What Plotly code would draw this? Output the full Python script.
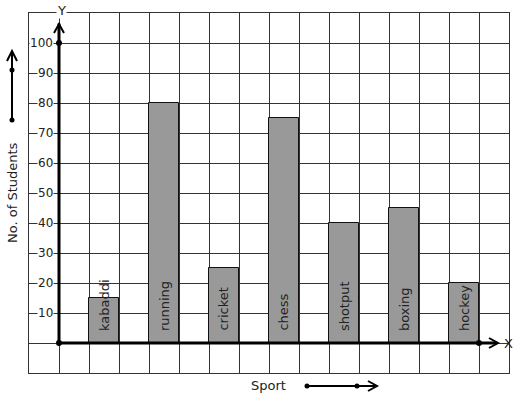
import plotly.graph_objects as go

sports = ["kabaddi", "running", "cricket", "chess", "shotput", "boxing", "hockey"]
students = [15, 80, 25, 75, 40, 45, 20]
bar_pos = [1.5, 3.5, 5.5, 7.5, 9.5, 11.5, 13.5]
y_ticks = [10, 20, 30, 40, 50, 60, 70, 80, 90, 100]

W, H = 517, 399
L, R, T, B = 29, 509, 13, 373


def px(x):
    return (x - L) / (R - L)


def py(y):
    return (B - y) / (B - T)


FONT = "DejaVu Sans"
INK = "#222"

fig = go.Figure()
fig.add_trace(go.Bar(
    x=bar_pos, y=students, width=1,
    marker=dict(color="#999999", line=dict(color="#111", width=1)),
    hoverinfo="skip",
))
fig.add_trace(go.Scatter(
    x=[0, 0, 14], y=[0, 100, 0], mode="markers",
    marker=dict(color="black", size=6), cliponaxis=False, hoverinfo="skip",
))

shapes = []
# thick axes
shapes.append(dict(type="line", xref="x", yref="y", x0=0, y0=0, x1=0, y1=106.5,
                   line=dict(color="black", width=3)))
shapes.append(dict(type="line", xref="x", yref="y", x0=0, y0=0, x1=14.6, y1=0,
                   line=dict(color="black", width=3)))
# chevrons on axes
shapes.append(dict(type="path", xref="paper", yref="paper",
                   path=f"M {px(54)} {py(33)} L {px(59)} {py(24)} L {px(64)} {py(33)}",
                   line=dict(color="black", width=2)))
shapes.append(dict(type="path", xref="paper", yref="paper",
                   path=f"M {px(489)} {py(338)} L {px(498)} {py(343)} L {px(489)} {py(348)}",
                   line=dict(color="black", width=2)))
# left arrow
shapes.append(dict(type="line", xref="paper", yref="paper", x0=px(12), y0=py(120),
                   x1=px(12), y1=py(53), line=dict(color="black", width=2)))
shapes.append(dict(type="path", xref="paper", yref="paper",
                   path=f"M {px(7)} {py(61)} L {px(12)} {py(51)} L {px(17)} {py(61)}",
                   line=dict(color="black", width=2)))
for yy in (120, 70):
    shapes.append(dict(type="circle", xref="paper", yref="paper",
                       x0=px(9.5), x1=px(14.5), y0=py(yy + 2.5), y1=py(yy - 2.5),
                       fillcolor="black", line=dict(color="black", width=0)))
# bottom arrow
shapes.append(dict(type="line", xref="paper", yref="paper", x0=px(307), y0=py(386),
                   x1=px(375), y1=py(386), line=dict(color="black", width=2)))
shapes.append(dict(type="path", xref="paper", yref="paper",
                   path=f"M {px(368)} {py(381)} L {px(377)} {py(386)} L {px(368)} {py(391)}",
                   line=dict(color="black", width=2)))
for xx in (307, 357):
    shapes.append(dict(type="circle", xref="paper", yref="paper",
                       x0=px(xx - 2.5), x1=px(xx + 2.5), y0=py(388.5), y1=py(383.5),
                       fillcolor="black", line=dict(color="black", width=0)))

annotations = []
for xp, name in zip(bar_pos, sports):
    annotations.append(dict(x=xp, y=3.3, xref="x", yref="y", text=name, textangle=-90,
                            showarrow=False, yanchor="bottom", xanchor="center",
                            font=dict(family=FONT, size=13, color=INK)))
for v in y_ticks:
    annotations.append(dict(x=px(54), y=v, xref="paper", yref="y", text=str(v),
                            showarrow=False, xanchor="right", yanchor="middle",
                            bgcolor="white", borderpad=0,
                            font=dict(family=FONT, size=12, color=INK)))
annotations.append(dict(x=px(61), y=py(10), xref="paper", yref="paper", text="Y",
                        showarrow=False, bgcolor="white", borderpad=0,
                        xanchor="center", yanchor="middle",
                        font=dict(family=FONT, size=13, color=INK)))
annotations.append(dict(x=px(508), y=py(343), xref="paper", yref="paper", text="X",
                        showarrow=False, borderpad=0,
                        xanchor="center", yanchor="middle",
                        font=dict(family=FONT, size=13, color=INK)))
annotations.append(dict(x=px(12), y=py(193), xref="paper", yref="paper",
                        text="No. of Students", textangle=-90, showarrow=False,
                        xanchor="center", yanchor="middle",
                        font=dict(family=FONT, size=13, color=INK)))
annotations.append(dict(x=px(268), y=py(385), xref="paper", yref="paper",
                        text="Sport", showarrow=False,
                        xanchor="center", yanchor="middle",
                        font=dict(family=FONT, size=13, color=INK)))

fig.update_layout(
    width=W, height=H,
    margin=dict(l=L, r=W - R, t=T, b=H - B),
    paper_bgcolor="white", plot_bgcolor="white",
    showlegend=False, shapes=shapes, annotations=annotations,
    xaxis=dict(range=[-1, 15], dtick=1, tick0=0, showgrid=True, gridcolor="#333",
               gridwidth=1, zeroline=False, showticklabels=False, ticks="",
               showline=True, mirror=True, linecolor="#333", linewidth=1,
               fixedrange=True),
    yaxis=dict(range=[-10, 110], dtick=10, tick0=0, showgrid=True, gridcolor="#333",
               gridwidth=1, zeroline=False, showticklabels=False, ticks="",
               showline=True, mirror=True, linecolor="#333", linewidth=1,
               fixedrange=True),
    bargap=0,
)

fig.write_html("out.html", config={"displayModeBar": False},
               post_script="document.body.style.margin='0';document.body.style.overflow='hidden';")
